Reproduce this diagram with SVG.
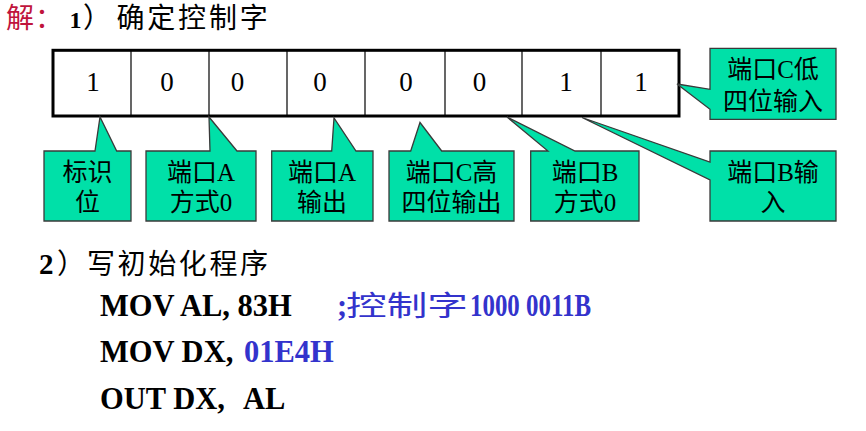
<svg xmlns="http://www.w3.org/2000/svg" width="866" height="431" viewBox="0 0 866 431">
<style>
.cjk{font-family:"Liberation Serif","Noto Sans CJK SC",serif;}
.title{font-size:28px;fill:#000;}
.num{font-family:"Liberation Serif",serif;font-size:27px;fill:#000;text-anchor:middle;}
.co{fill:#00E0A8;stroke:#3a3a3a;stroke-width:1.3;stroke-linejoin:miter;}
.ct{font-family:"Liberation Serif","Noto Sans CJK SC",serif;font-size:25px;fill:#000;text-anchor:middle;}
.code{font-family:"Liberation Serif",serif;font-weight:bold;font-size:30.5px;fill:#000;}
.blue{fill:#3333CC;}
.div{stroke:#000;stroke-width:1.2;}
</style>
<rect width="866" height="431" fill="#fff"/>
<g id="title">
<text class="cjk title" y="27.5"><tspan x="6" fill="#C0143C">解</tspan><tspan x="35" fill="#C0143C">：</tspan><tspan x="69.5" y="28.3" font-weight="bold" font-size="24px" font-family="Liberation Serif,serif">1</tspan><tspan x="83" y="27.5">）</tspan><tspan x="116.5 147.3 178.1 208.9 239.7">确定控制字</tspan></text>
</g>
<g id="register">
<rect x="53" y="50.3" width="626" height="65.7" fill="#fff" stroke="#000" stroke-width="3"/>
<line class="div" x1="131" y1="50" x2="131" y2="116"/>
<line class="div" x1="209" y1="50" x2="209" y2="116"/>
<line class="div" x1="287" y1="50" x2="287" y2="116"/>
<line class="div" x1="365" y1="50" x2="365" y2="116"/>
<line class="div" x1="445" y1="50" x2="445" y2="116"/>
<line class="div" x1="522" y1="50" x2="522" y2="116"/>
<line class="div" x1="601" y1="50" x2="601" y2="116"/>
<text class="num" x="93" y="90.5">1</text>
<text class="num" x="167" y="90.5">0</text>
<text class="num" x="237.5" y="90.5">0</text>
<text class="num" x="320" y="90.5">0</text>
<text class="num" x="406" y="90.5">0</text>
<text class="num" x="479.5" y="90.5">0</text>
<text class="num" x="566" y="90.5">1</text>
<text class="num" x="641" y="90.5">1</text>
</g>
<g id="connectors"></g>
<g id="callout-flag">
<path class="co" d="M44,151 L95,151 L100,117 L116.7,151 L131,151 L131,221 L44,221 Z"/>
<text class="ct" x="87.5" y="181">标识</text>
<text class="ct" x="87.5" y="211">位</text>
</g>
<g id="callout-a-mode">
<path class="co" d="M146,151 L210,151 L209,117 L237,151 L256,151 L256,221 L146,221 Z"/>
<text class="ct" x="201" y="181">端口A</text>
<text class="ct" x="201" y="211">方式0</text>
</g>
<g id="callout-a-out">
<path class="co" d="M271.7,151 L331.7,151 L334,118 L356,151 L373,151 L373,221 L271.7,221 Z"/>
<text class="ct" x="322" y="181">端口A</text>
<text class="ct" x="322" y="211">输出</text>
</g>
<g id="callout-c-high">
<path class="co" d="M389,151 L410.7,151 L420,122.5 L441.7,151 L514,151 L514,221 L389,221 Z"/>
<text class="ct" x="451.5" y="181">端口C高</text>
<text class="ct" x="451.5" y="211">四位输出</text>
</g>
<g id="callout-b-mode">
<path class="co" d="M530.7,151 L548,151 L507,117 L575,151 L639,151 L639,221 L530.7,221 Z"/>
<text class="ct" x="585" y="181">端口B</text>
<text class="ct" x="585" y="211">方式0</text>
</g>
<g id="callout-b-in">
<path class="co" d="M710,151 L836,151 L836,221 L710,221 L710,180 L582,117.5 L710,162 Z"/>
<text class="ct" x="773" y="181">端口B输</text>
<text class="ct" x="773" y="211">入</text>
</g>
<g id="callout-c-low">
<path class="co" d="M710,48.3 L836,48.3 L836,119.3 L710,119.3 L710,109.3 L677,84 L710,89.3 Z"/>
<text class="ct" x="773" y="77.5">端口C低</text>
<text class="ct" x="773" y="110">四位输入</text>
</g>
<g id="program">
<text class="cjk title" y="273.5"><tspan x="39" font-weight="bold" font-size="29px" font-family="Liberation Serif,serif">2</tspan><tspan x="57" y="273.5">）</tspan><tspan x="87 117.6 148.2 178.8 209.4 240" y="273.5">写初始化程序</tspan></text>
<text class="code" x="100" y="316">MOV AL, 83H</text>
<text class="code blue" x="337" y="316">;</text>
<text class="blue" x="346" y="316" font-family="Noto Sans CJK SC,sans-serif" font-size="28px" textLength="122" lengthAdjust="spacingAndGlyphs">控制字</text>
<text class="code blue" x="470" y="316" textLength="121" lengthAdjust="spacingAndGlyphs">1000 0011B</text>
<text class="code" x="100" y="362">MOV DX,</text>
<text class="code blue" x="244" y="362">01E4H</text>
<text class="code" x="100" y="408.5">OUT DX,</text>
<text class="code" x="243" y="408.5">AL</text>
</g>
</svg>
